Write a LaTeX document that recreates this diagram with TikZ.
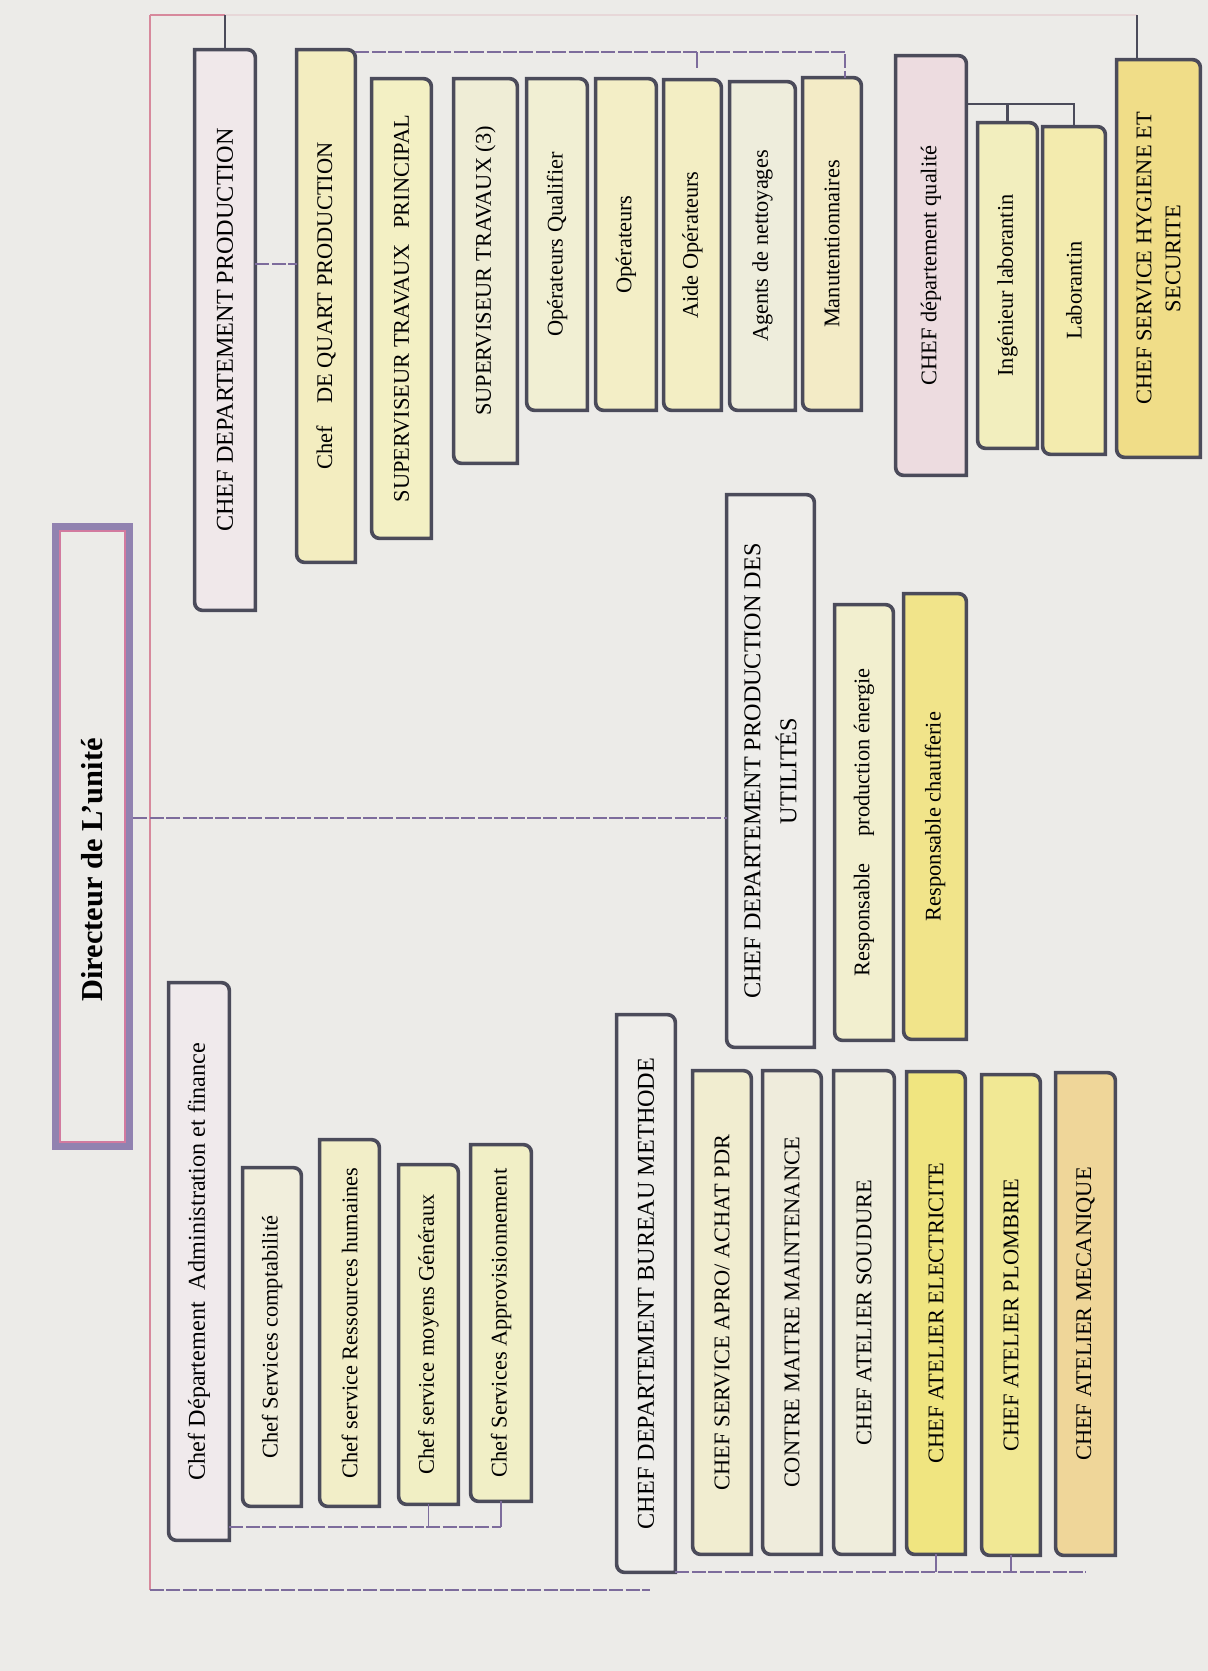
\documentclass[tikz,border=0pt]{standalone}
\usepackage{fontspec}
\setmainfont{Liberation Serif}
\usetikzlibrary{backgrounds,calc}

% paper, borders, connectors
\definecolor{paper}{HTML}{ECEBE8}
\definecolor{edge}{HTML}{4B4B5A}
\definecolor{busc}{HTML}{D7899C}
\definecolor{linkc}{HTML}{7D6C9C}
\definecolor{dirOuter}{HTML}{9182B0}
\definecolor{dirInner}{HTML}{D27A9F}
% box fills
\definecolor{cDprod}{HTML}{F0E8EA}
\definecolor{cQuart}{HTML}{F3EDC0}
\definecolor{cSupp}{HTML}{F3F0C4}
\definecolor{cSup3}{HTML}{EFEDD6}
\definecolor{cOpq}{HTML}{F1EFD3}
\definecolor{cOpe}{HTML}{F3EEC6}
\definecolor{cAide}{HTML}{F3EEC4}
\definecolor{cAgents}{HTML}{EEEDDC}
\definecolor{cManut}{HTML}{F3EBC6}
\definecolor{cQual}{HTML}{EDDCE0}
\definecolor{cIng}{HTML}{F2EEBE}
\definecolor{cLab}{HTML}{F3EBAE}
\definecolor{cHyg}{HTML}{F0DD88}
\definecolor{cUtil}{HTML}{EEEDEA}
\definecolor{cEnerg}{HTML}{F2EFCF}
\definecolor{cChauf}{HTML}{F1E48A}
\definecolor{cBureau}{HTML}{EEEDEA}
\definecolor{cApro}{HTML}{F1EDD0}
\definecolor{cContre}{HTML}{EFECDC}
\definecolor{cSoud}{HTML}{EFEDDC}
\definecolor{cElec}{HTML}{F0E580}
\definecolor{cPlomb}{HTML}{F1E894}
\definecolor{cMeca}{HTML}{EFD699}
\definecolor{cAdmin}{HTML}{F0EAEC}
\definecolor{cCompta}{HTML}{F1EEDC}
\definecolor{cRh}{HTML}{F2EEC8}
\definecolor{cMoy}{HTML}{F1EFC4}
\definecolor{cAppro}{HTML}{F1EFC6}

\begin{document}
\begin{tikzpicture}[x=0.5pt,y=0.5pt,
  box/.style 2 args={rotate=90, inner sep=0pt, align=center, text=black,
    minimum width=#1*0.5pt, minimum height=#2*0.5pt},
  svc/.style={font=\fontsize{11.2pt}{14.5pt}\selectfont},
  dept/.style={font=\fontsize{12.1pt}{18pt}\selectfont},
  titlefont/.style={font=\fontsize{15.2pt}{19pt}\selectfont\bfseries},
  bus/.style={draw=busc, line width=0.9pt},
  dlink/.style={draw=linkc, line width=1.2pt, dash pattern=on 7pt off 1.2pt},
  slink/.style={draw=edge, line width=1.4pt},
  stub/.style={draw=linkc, line width=0.6pt},
  border/.style={draw=edge, line width=1.8pt}
]
\useasboundingbox (0,0) rectangle (1208,-1671);

% ---------- director ----------
\node[rotate=90, inner sep=0pt, minimum width=313.5pt, minimum height=40.5pt] (dir) at (92.5,-836.5) {};
\node[rotate=90, inner sep=0pt, titlefont] (dirlabel) at (92,-870) {Directeur de L’unité};

% ---------- production department ----------
\node[box={560}{60}, dept] (dprod) at (225,-330) {CHEF DEPARTEMENT PRODUCTION};
\node[box={512}{58}, svc] (quart) at (326,-306) {Chef\hspace{1em}DE QUART PRODUCTION};
\node[box={459}{59}, svc] (supp) at (401.5,-308.5) {SUPERVISEUR TRAVAUX\hspace{0.7em}PRINCIPAL};
\node[box={384}{63}, svc] (sup3) at (485.5,-271) {SUPERVISEUR TRAVAUX (3)};
\node[box={331}{60}, svc] (opq) at (557,-244.5) {Opérateurs Qualifier};
\node[box={331}{60}, svc] (ope) at (626,-244.5) {Opérateurs};
\node[box={330}{57}, svc] (aide) at (692.5,-245) {Aide Opérateurs};
\node[box={328}{65}, svc] (agents) at (762.5,-246) {Agents de nettoyages};
\node[box={332}{58}, svc] (manut) at (832,-244) {Manutentionnaires};

% ---------- quality and safety ----------
\node[box={419}{70}, svc] (qual) at (931,-265.5) {CHEF département qualité};
\node[box={325}{59}, svc] (ing) at (1007.5,-285.5) {Ingénieur laborantin};
\node[box={327}{62}, svc] (lab) at (1074,-290.5) {Laborantin};
\node[box={397}{83}, svc] (hyg) at (1158.5,-258.5) {CHEF SERVICE HYGIENE ET\\SECURITE};

% ---------- utilities ----------
\node[box={552}{87}, dept] (util) at (770.5,-771) {CHEF DEPARTEMENT PRODUCTION DES\\UTILITÉS};
\node[box={435}{58}, svc] (energ) at (864,-822.5) {Responsable\hspace{1.2em}production énergie};
\node[box={445}{62}, svc] (chauf) at (935,-816.5) {Responsable chaufferie};

% ---------- methods and workshops ----------
\node[box={557}{58}, dept] (bureau) at (646,-1293.5) {CHEF DEPARTEMENT BUREAU METHODE};
\node[box={483}{58}, svc] (apro) at (722,-1312.5) {CHEF SERVICE APRO/ ACHAT PDR};
\node[box={483}{58}, svc] (contre) at (792,-1312.5) {CONTRE MAITRE MAINTENANCE};
\node[box={483}{60}, svc] (soud) at (864,-1312.5) {CHEF ATELIER SOUDURE};
\node[box={482}{58}, svc] (elec) at (936,-1313) {CHEF ATELIER ELECTRICITE};
\node[box={480}{58}, svc] (plomb) at (1011,-1315) {CHEF ATELIER PLOMBRIE};
\node[box={482}{59}, svc] (meca) at (1085.5,-1314) {CHEF ATELIER MECANIQUE};

% ---------- administration and finance ----------
\node[box={557}{60}, dept] (admin) at (199,-1261.5) {Chef Département\hspace{0.5em}Administration et finance};
\node[box={338}{58}, svc] (compta) at (272,-1337) {Chef Services comptabilité};
\node[box={366}{59}, svc] (rh) at (349.5,-1323) {Chef service Ressources humaines};
\node[box={339}{59}, svc] (moyens) at (428.5,-1334.5) {Chef service moyens Généraux};
\node[box={356}{60}, svc] (appro) at (501,-1323) {Chef Services Approvisionnement};

% ---------- box outlines and fills (behind the texts) ----------
\begin{scope}[on background layer]
  \fill[paper] (0,0) rectangle (1208,-1671);
  \foreach \nm/\cl in {dprod/cDprod, quart/cQuart, supp/cSupp, sup3/cSup3,
      opq/cOpq, ope/cOpe, aide/cAide, agents/cAgents, manut/cManut,
      qual/cQual, ing/cIng, lab/cLab, hyg/cHyg, util/cUtil, energ/cEnerg,
      chauf/cChauf, bureau/cBureau, apro/cApro, contre/cContre, soud/cSoud,
      elec/cElec, plomb/cPlomb, meca/cMeca, admin/cAdmin, compta/cCompta,
      rh/cRh, moyens/cMoy, appro/cAppro}{
    \path[border, fill=\cl] (\nm.north east)
      -- ([xshift=-4pt]\nm.south east) arc[start angle=90, end angle=0, radius=4pt]
      -- (\nm.south west)
      -- ([xshift=4pt]\nm.north west) arc[start angle=270, end angle=180, radius=4pt]
      -- cycle;
  }
  % double frame of the director box
  \draw[dirOuter, line width=3.5pt] ([shift={(1.75pt,-1.75pt)}]dir.north east) rectangle ([shift={(-1.75pt,1.75pt)}]dir.south west);
  \draw[dirInner, line width=1pt] ([shift={(4pt,-4pt)}]dir.north east) rectangle ([shift={(-4pt,4pt)}]dir.south west);
\end{scope}

% ---------- connectors ----------
\coordinate (topL) at (150,-15);
\coordinate (topR) at (1137,-15);
\coordinate (botL) at (150,-1590);
\coordinate (botR) at (650,-1590);
\draw[bus] (topL) -- (botL);
\draw[bus] (topL) -- (topL -| dprod.east);
\draw[bus, opacity=0.2] (topL -| dprod.east) -- (topR);
\draw[draw=edge, line width=0.8pt] (topL -| dprod.east) -- (dprod.east);
\draw[slink] (topR) -- (topR |- hyg.east);
\draw[dlink] (botL) -- (botR);

% production chain
\coordinate (yq) at (0,-264);
\draw[dlink] (dprod.south |- yq) -- (quart.north |- yq);
\coordinate (yteam) at (0,-52);
\coordinate (xteam) at (845,0);
\draw[dlink] (quart.south |- yteam) -- (xteam |- yteam) -- (xteam |- manut.east);
\coordinate (tickA) at (697,-52);
\coordinate (tickB) at (697,-68);
\draw[stub] (tickA) -- (tickB);

% quality
\coordinate (ylab) at (0,-104);
\draw[slink] (qual.south |- ylab) -- (lab.east |- ylab) -- (lab.east);
\draw[slink] (ing.east |- ylab) -- (ing.east);

% director to utilities
\coordinate (yu) at (0,-818);
\draw[dlink] (dir.south |- yu) -- (util.north |- yu);

% administration
\coordinate (ya) at (0,-1527);
\draw[dlink] (admin.south |- ya) -- (appro.west |- ya);
\draw[stub] (appro.west |- ya) -- (appro.west);
\draw[stub] (moyens.west |- ya) -- (moyens.west);

% workshops
\coordinate (yb) at (0,-1572);
\draw[dlink] (bureau.south |- yb) -- (meca.west |- yb);
\draw[stub] (elec.west |- yb) -- (elec.west);
\draw[stub] (plomb.west |- yb) -- (plomb.west);
\end{tikzpicture}
\end{document}
